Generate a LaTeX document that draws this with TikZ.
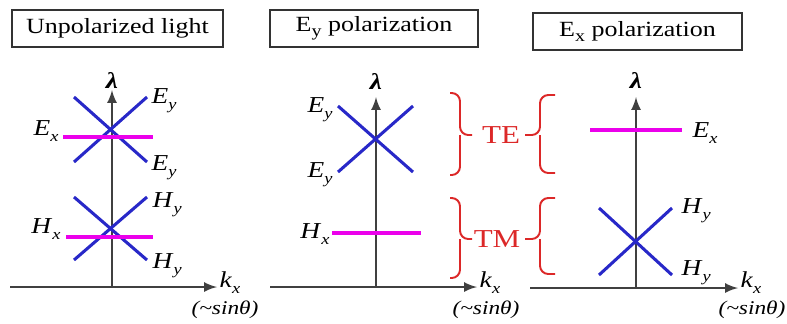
\documentclass[tikz,border=0pt]{standalone}
\usepackage{fontspec}
\setmainfont{Liberation Serif}[FakeStretch=1.2]
\definecolor{bandblue}{RGB}{40,40,200}
\definecolor{bandpink}{RGB}{235,0,235}
\definecolor{bracered}{RGB}{220,40,40}
\newcommand{\fld}[2]{\textit{#1}\raisebox{-0.6ex}{\fontsize{5.5}{6}\selectfont\textit{#2}}}
\newcommand{\pol}[1]{E\raisebox{-0.45ex}{\fontsize{6}{7}\selectfont #1} polarization}

\begin{document}
\begin{tikzpicture}[x=0.36pt,y=-0.36pt,
  title/.style={draw,line width=0.6pt,black!80,text=black,minimum height=13.3pt,
    inner sep=0pt,font=\fontsize{7.8}{9}\selectfont},
  axis/.style={-latex,line width=0.6pt,black!75},
  band/.style={bandblue,line width=1.1pt},
  flat/.style={bandpink,line width=1.1pt},
  lab/.style={inner sep=0pt,font=\fontsize{8.2}{10}\selectfont},
  sinlab/.style={inner sep=0pt,font=\fontsize{7}{8}\selectfont\itshape},
  grp/.style={bracered,line width=0.7pt,rounded corners=3pt},
  mode/.style={inner sep=0pt,text=bracered,font=\fontsize{9.3}{11}\selectfont}]
\useasboundingbox (0,0) rectangle (787,323);

% titles
\node (tit1) [title,minimum width=76pt] at (117.5,28.5) {Unpolarized light};
\node (tit2) [title,minimum width=74.9pt] at (374,28.5) {\pol{y}};
\node (tit3) [title,minimum width=75.2pt] at (637.5,31.5) {\pol{x}};

% unpolarized light
\coordinate (o1) at (112,287);
\coordinate (l1) at (10,287);
\coordinate (r1) at (217,287);
\coordinate (t1) at (112,90);
\draw[axis] (l1) -- (r1);
\draw[axis] (o1) -- (t1);
\coordinate (a1) at (74,97);
\coordinate (b1) at (147,162);
\coordinate (c1) at (74,162);
\coordinate (d1) at (147,97);
\draw[band] (a1) -- (b1);
\draw[band] (c1) -- (d1);
\coordinate (e1) at (63,137);
\coordinate (f1) at (153,137);
\draw[flat] (e1) -- (f1);
\coordinate (g1) at (74,197);
\coordinate (h1) at (147,260);
\coordinate (i1) at (74,260);
\coordinate (j1) at (147,197);
\draw[band] (g1) -- (h1);
\draw[band] (i1) -- (j1);
\coordinate (m1) at (66,237);
\coordinate (n1) at (153,237);
\draw[flat] (m1) -- (n1);
\node (lam1) [lab,anchor=base] at (112,88) {\textbf{\textit{λ}}};
\node (ex1) [lab,anchor=base east] at (59,135) {\fld{E}{x}};
\node (eyt1) [lab,anchor=base west] at (151,103) {\fld{E}{y}};
\node (eyb1) [lab,anchor=base west] at (151,170) {\fld{E}{y}};
\node (hx1) [lab,anchor=base east] at (61,233) {\fld{H}{x}};
\node (hyt1) [lab,anchor=base west] at (152,207) {\fld{H}{y}};
\node (hyb1) [lab,anchor=base west] at (152,268) {\fld{H}{y}};
\node (kx1) [lab,anchor=base west] at (219,287) {\fld{k}{x}};
\node (sin1) [sinlab,anchor=base] at (225,314) {(\textasciitilde sinθ)};

% Ey polarization
\coordinate (o2) at (376,287);
\coordinate (l2) at (270,287);
\coordinate (r2) at (477,287);
\coordinate (t2) at (376,97);
\draw[axis] (l2) -- (r2);
\draw[axis] (o2) -- (t2);
\coordinate (a2) at (338,106);
\coordinate (b2) at (413,172);
\coordinate (c2) at (338,172);
\coordinate (d2) at (413,106);
\draw[band] (a2) -- (b2);
\draw[band] (c2) -- (d2);
\coordinate (m2) at (332,233);
\coordinate (n2) at (421,233);
\draw[flat] (m2) -- (n2);
\node (lam2) [lab,anchor=base] at (376,89) {\textbf{\textit{λ}}};
\node (eyt2) [lab,anchor=base east] at (333,112) {\fld{E}{y}};
\node (eyb2) [lab,anchor=base east] at (333,177) {\fld{E}{y}};
\node (hx2) [lab,anchor=base east] at (330,238) {\fld{H}{x}};
\node (kx2) [lab,anchor=base west] at (479,287) {\fld{k}{x}};
\node (sin2) [sinlab,anchor=base] at (486,314) {(\textasciitilde sinθ)};

% TE / TM groups
\coordinate (p1) at (450,93);
\coordinate (p2) at (450,175);
\coordinate (pm) at (460,135);
\coordinate (pt) at (472,135);
\draw[grp] (p1) -| (pm) -- (pt);
\draw[grp] (p2) -| (pm);
\coordinate (p3) at (450,198);
\coordinate (p4) at (450,278);
\coordinate (pn) at (460,239);
\coordinate (pu) at (472,239);
\draw[grp] (p3) -| (pn) -- (pu);
\draw[grp] (p4) -| (pn);
\coordinate (q1) at (555,95);
\coordinate (q2) at (555,173);
\coordinate (qm) at (540,135);
\coordinate (qt) at (525,135);
\draw[grp] (q1) -| (qm) -- (qt);
\draw[grp] (q2) -| (qm);
\coordinate (q3) at (555,198);
\coordinate (q4) at (555,274);
\coordinate (qn) at (540,239);
\coordinate (qu) at (525,239);
\draw[grp] (q3) -| (qn) -- (qu);
\draw[grp] (q4) -| (qn);
\node (te) [mode] at (501,135) {TE};
\node (tm) [mode] at (497,239) {TM};

% Ex polarization
\coordinate (o3) at (636,288);
\coordinate (l3) at (530,288);
\coordinate (r3) at (738,288);
\coordinate (t3) at (636,97);
\draw[axis] (l3) -- (r3);
\draw[axis] (o3) -- (t3);
\coordinate (e3) at (590,130);
\coordinate (f3) at (682,130);
\draw[flat] (e3) -- (f3);
\coordinate (a3) at (599,208);
\coordinate (b3) at (672,275);
\coordinate (c3) at (599,275);
\coordinate (d3) at (672,208);
\draw[band] (a3) -- (b3);
\draw[band] (c3) -- (d3);
\node (lam3) [lab,anchor=base] at (636,88) {\textbf{\textit{λ}}};
\node (ex3) [lab,anchor=base west] at (692,137) {\fld{E}{x}};
\node (hyt3) [lab,anchor=base west] at (681,213) {\fld{H}{y}};
\node (hyb3) [lab,anchor=base west] at (681,275) {\fld{H}{y}};
\node (kx3) [lab,anchor=base west] at (740,287) {\fld{k}{x}};
\node (sin3) [sinlab,anchor=base east] at (786,314) {(\textasciitilde sinθ)};
\end{tikzpicture}
\end{document}
